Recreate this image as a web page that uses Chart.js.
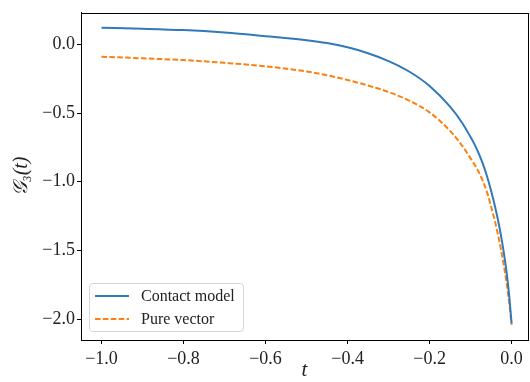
<!DOCTYPE html>
<html>
<head>
<meta charset="utf-8">
<script src="https://cdn.jsdelivr.net/npm/chart.js@4.4.1/dist/chart.umd.min.js"></script>
<style>
  html, body { margin: 0; padding: 0; background: #fff; }
  #wrap { position: relative; width: 530px; height: 382px; }
  #legend {
    position: absolute; left: 89px; top: 283px; width: 153px; height: 47px;
    border: 1px solid #d6d6d6; border-radius: 4px; background: rgba(255,255,255,0.8);
    font-family: "Liberation Serif", "DejaVu Serif", serif; font-size: 16px; color: #222;
  }
  .row { position: absolute; left: 5px; height: 20px; display: flex; align-items: center; }
  .row svg { margin-right: 12px; }
</style>
</head>
<body>
<div id="wrap">
  <canvas id="chart" width="530" height="382"></canvas>
  <div id="legend"></div>
</div>
<script>
// ==================== DATA ====================
const tValues = [-1.0, -0.9, -0.8, -0.7, -0.6, -0.5, -0.45, -0.4, -0.35, -0.3, -0.25, -0.2,
  -0.15, -0.12, -0.1, -0.09, -0.08, -0.07, -0.06, -0.05, -0.04, -0.03, -0.02, -0.012, -0.006, 0.0];
const contactModel = [0.120, 0.113, 0.103, 0.085, 0.059, 0.030, 0.009, -0.022, -0.065, -0.122, -0.198, -0.303,
  -0.454, -0.574, -0.675, -0.730, -0.795, -0.870, -0.960, -1.065, -1.185, -1.325, -1.495, -1.663, -1.825, -2.030];
const pureVector = [-0.090, -0.102, -0.115, -0.135, -0.160, -0.198, -0.225, -0.260, -0.300, -0.347, -0.410, -0.495,
  -0.630, -0.740, -0.830, -0.877, -0.930, -0.995, -1.075, -1.180, -1.295, -1.430, -1.590, -1.740, -1.875, -2.040];
const seriesNames = ['Contact model', 'Pure vector'];
const xTicks = [-1.0, -0.8, -0.6, -0.4, -0.2, 0.0];
const yTicks = [-2.0, -1.5, -1.0, -0.5, 0.0];

const BLUE = '#3079bb';
const ORANGE = '#ff7f0e';
const DASH = [5.5, 2.4];
const SERIF = '"Liberation Serif", "DejaVu Serif", serif';

const toPoints = (vals) => tValues.map((t, i) => ({ x: t, y: vals[i] }));
const fmt = (v) => v.toFixed(1).replace('-', '\u2212');

// draws the full box around the plot area (matplotlib spines)
const framePlugin = {
  id: 'frame',
  afterDraw(chart) {
    const { ctx, chartArea: a } = chart;
    ctx.save();
    ctx.strokeStyle = '#000';
    ctx.lineWidth = 1;
    ctx.strokeRect(Math.round(a.left) + 0.5, Math.round(a.top) + 0.5,
      Math.round(a.right - a.left), Math.round(a.bottom - a.top));
    ctx.restore();
  }
};

new Chart(document.getElementById('chart').getContext('2d'), {
  type: 'line',
  data: {
    datasets: [
      {
        label: seriesNames[0],
        data: toPoints(contactModel),
        borderColor: BLUE,
        borderWidth: 2,
        pointRadius: 0,
        cubicInterpolationMode: 'monotone',
        fill: false
      },
      {
        label: seriesNames[1],
        data: toPoints(pureVector),
        borderColor: ORANGE,
        borderWidth: 2,
        borderDash: DASH,
        pointRadius: 0,
        cubicInterpolationMode: 'monotone',
        fill: false
      }
    ]
  },
  options: {
    responsive: false,
    animation: false,
    layout: { padding: { top: 8, right: 2, left: 0, bottom: 0 } },
    plugins: { legend: { display: false }, tooltip: { enabled: false } },
    scales: {
      x: {
        type: 'linear',
        min: -1.05,
        max: 0.04,
        afterBuildTicks: (s) => { s.ticks = xTicks.map(v => ({ value: v })); },
        afterFit: (s) => { s.height = 42; },
        grid: { drawOnChartArea: false, drawTicks: true, tickLength: 4, color: '#000' },
        border: { display: true, color: '#000', width: 1 },
        ticks: {
          color: '#222', padding: 4, maxRotation: 0, autoSkip: false,
          font: { family: SERIF, size: 18 },
          callback: (v) => fmt(v)
        },
        title: {
          display: true, text: 't', color: '#222', padding: { top: 0, bottom: -1 },
          font: { family: SERIF, size: 21, style: 'italic' }
        }
      },
      y: {
        min: -2.151,
        max: 0.229,
        afterBuildTicks: (s) => { s.ticks = yTicks.map(v => ({ value: v })); },
        afterFit: (s) => { s.width = 81; },
        grid: { drawOnChartArea: false, drawTicks: true, tickLength: 4, color: '#000' },
        border: { display: true, color: '#000', width: 1 },
        ticks: {
          color: '#222', padding: 2, autoSkip: false,
          font: { family: SERIF, size: 18 },
          callback: (v) => fmt(v)
        },
        title: {
          display: true, text: '\uD835\uDCA2\u2083(t)', color: '#222', padding: { top: 10, bottom: 0 },
          font: { family: SERIF, size: 20, style: 'italic' }
        }
      }
    }
  },
  plugins: [framePlugin]
});

// legend built as html, placed inside the plot like the matplotlib one
const legend = document.getElementById('legend');
[[BLUE, null], [ORANGE, DASH]].forEach(([color, dash], i) => {
  const row = document.createElement('div');
  row.className = 'row';
  row.style.top = (2 + i * 23) + 'px';
  row.innerHTML = '<svg width="34" height="6"><line x1="0" y1="3" x2="34" y2="3" stroke="' + color +
    '" stroke-width="2"' + (dash ? ' stroke-dasharray="' + dash.join(' ') + '"' : '') + '/></svg>' +
    '<span>' + seriesNames[i] + '</span>';
  legend.appendChild(row);
});
</script>
</body>
</html>
